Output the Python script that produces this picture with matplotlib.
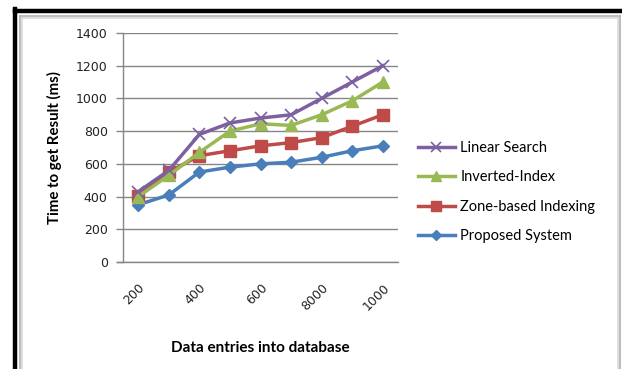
import numpy as np
import matplotlib
matplotlib.use("Agg")
import matplotlib.pyplot as plt
from matplotlib.lines import Line2D

plt.rcParams['font.family'] = ['Lato', 'DejaVu Sans']

# data
categories = ["200", "300", "400", "500", "600", "700", "8000", "900", "1000"]
shown_labels = ["200", "", "400", "", "600", "", "8000", "", "1000"]
linear_search = [430, 560, 780, 850, 880, 900, 1000, 1100, 1200]
inverted_index = [400, 530, 670, 800, 845, 835, 900, 985, 1100]
zone_based = [405, 550, 650, 680, 710, 730, 760, 830, 900]
proposed = [350, 410, 550, 580, 600, 610, 640, 680, 710]
y_ticks = [0, 200, 400, 600, 800, 1000, 1200, 1400]

W, H = 622, 369
fig = plt.figure(figsize=(W / 100, H / 100), dpi=100)

# outer frame: thick black on left/top, thin gray double line inside
fig.add_artist(Line2D([15 / W, 15 / W], [0, 1 - 9 / H], color='black', lw=3.2,
                      transform=fig.transFigure, solid_capstyle='projecting'))
fig.add_artist(Line2D([15 / W, 1], [1 - 11 / H, 1 - 11 / H], color='black', lw=3.2,
                      transform=fig.transFigure, solid_capstyle='projecting'))
for off, c in [(19.5, '#b0b0b0'), (21.5, '#d8d8d8')]:
    fig.add_artist(Line2D([off / W, off / W], [0, 1 - (off - 4) / H], color=c, lw=1.2,
                          transform=fig.transFigure))
    fig.add_artist(Line2D([off / W, (W + 17.5 - off) / W], [1 - (off - 4) / H, 1 - (off - 4) / H],
                          color=c, lw=1.2, transform=fig.transFigure))
    fig.add_artist(Line2D([(W + 17.5 - off) / W, (W + 17.5 - off) / W], [0, 1 - (off - 4) / H],
                          color=c, lw=1.2, transform=fig.transFigure))

ax = fig.add_axes([123 / W, 1 - 262 / H, 275 / W, 229 / H])
x = np.arange(len(categories))

series = [
    (proposed, 'Proposed System', '#4a7ebb', 'D', 6),
    (zone_based, 'Zone-based Indexing', '#be4b48', 's', 8),
    (inverted_index, 'Inverted-Index', '#98b954', '^', 8),
    (linear_search, 'Linear Search', '#7d60a0', 'x', 8),
]
handles = {}
for vals, name, col, mk, ms in series:
    h, = ax.plot(x, vals, color=col, lw=2.5, marker=mk, markersize=ms,
                 markeredgewidth=1 if mk != 'x' else 1.2, label=name, zorder=3)
    handles[name] = h

ax.set_xlim(-0.5, len(categories) - 0.5)
ax.set_ylim(0, 1400)
ax.set_yticks(y_ticks)
ax.set_yticklabels([str(v) for v in y_ticks], fontsize=9, color='#222222',
                   family='DejaVu Sans')
ax.set_xticks(x)
ax.set_xticklabels(shown_labels, rotation=45, ha='right', rotation_mode='anchor',
                   fontsize=9, color='#222222', family='DejaVu Sans')
ax.tick_params(axis='x', length=0, pad=14)
ax.tick_params(axis='y', length=5, color='#868686', width=1, pad=6)
ax.grid(axis='y', color='#868686', lw=1)
ax.set_axisbelow(True)
for side in ['top', 'right']:
    ax.spines[side].set_visible(False)
for side in ['left', 'bottom']:
    ax.spines[side].set_color('#868686')
    ax.spines[side].set_linewidth(1)
ax.spines['bottom'].set_bounds(-0.5 - 6 / 30.6, len(categories) - 0.5)

ax.set_ylabel('Time to get Result (ms)', fontsize=10.8, fontweight='bold', labelpad=10)
ax.set_xlabel('Data entries into database', fontsize=11, fontweight='bold', labelpad=20)

order = ['Linear Search', 'Inverted-Index', 'Zone-based Indexing', 'Proposed System']
fig.legend([handles[n] for n in order], order, loc='upper left',
           bbox_to_anchor=(405 / W, 1 - 128 / H), frameon=False, fontsize=10.5,
           labelspacing=1.05, handlelength=2.5, handletextpad=0.4, markerscale=0.9)

fig.savefig('out.png', dpi=100)
